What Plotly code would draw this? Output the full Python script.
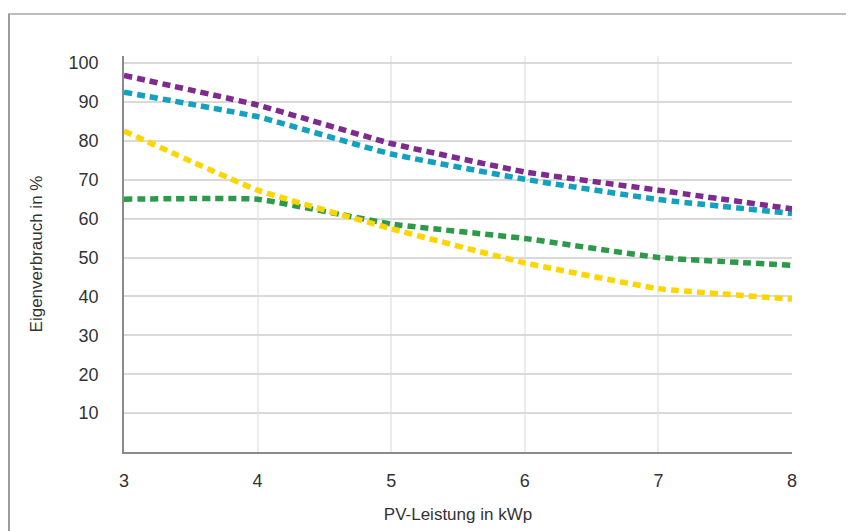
import plotly.graph_objects as go

# PV-Leistung in kWp
pv_kwp = [3, 4, 5, 6, 7, 8]

# Eigenverbrauch in % per Kurve
serie_lila = [96.8, 89.2, 79.3, 72.0, 67.3, 62.5]
serie_tuerkis = [92.5, 86.2, 76.6, 70.1, 64.9, 61.3]
serie_gelb = [82.5, 67.3, 57.4, 48.6, 42.0, 39.3]
serie_gruen = [65.0, 65.0, 58.6, 54.9, 50.0, 48.0]

y_ticks = [10, 20, 30, 40, 50, 60, 70, 80, 90, 100]

FONT = "Liberation Sans, Arial, sans-serif"

fig = go.Figure()
for values, color in [
    (serie_gruen, "#2d9a4b"),
    (serie_gelb, "#fdd500"),
    (serie_tuerkis, "#12a1bf"),
    (serie_lila, "#7e2a8f"),
]:
    fig.add_trace(
        go.Scatter(
            x=pv_kwp,
            y=values,
            mode="lines",
            line={"color": color, "width": 5.5, "dash": "8px,5px", "shape": "spline", "smoothing": 0.3},
            hoverinfo="skip",
        )
    )

# feiner Rahmen oben und links (die Seite hat 8px Rand)
frame = "#bdbdbd"
fig.add_shape(type="line", xref="paper", yref="paper", x0=-0.18, x1=1.12, y0=1.106, y1=1.106,
              line={"color": frame, "width": 2})
fig.add_shape(type="line", xref="paper", yref="paper", x0=-0.1722, x1=-0.1722, y0=1.106, y1=-0.25,
              line={"color": "#9a9a9a", "width": 2})

fig.update_layout(
    width=854,
    height=531,
    showlegend=False,
    plot_bgcolor="white",
    paper_bgcolor="white",
    margin={"l": 116, "r": 70, "t": 48, "b": 87},
    font={"family": FONT, "size": 18, "color": "#333333"},
)
fig.update_xaxes(
    range=[3, 8],
    tickvals=pv_kwp,
    showgrid=True,
    gridcolor="#ececec",
    gridwidth=1.5,
    showline=True,
    linecolor="#8a8a8a",
    linewidth=1.5,
    ticks="",
    ticklabelstandoff=12,
    zeroline=False,
    title={"text": "PV-Leistung in kWp", "font": {"size": 17, "color": "#333333"}, "standoff": 18},
)
fig.update_yaxes(
    range=[0, 101.8],
    tickvals=y_ticks,
    showgrid=True,
    gridcolor="#d9d9d9",
    gridwidth=2,
    showline=True,
    linecolor="#8a8a8a",
    linewidth=1.5,
    ticks="",
    ticklabelstandoff=20,
    zeroline=False,
    title={"text": "Eigenverbrauch in %", "font": {"size": 17, "color": "#333333"}, "standoff": 22},
)

fig.write_html("out.html")
